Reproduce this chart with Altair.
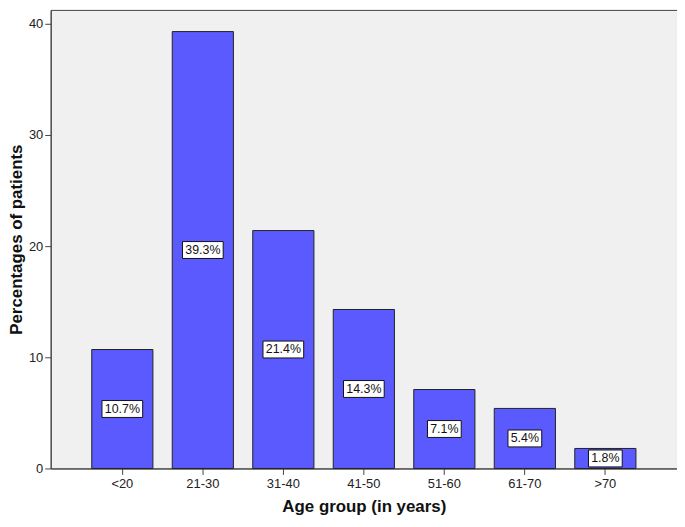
import altair as alt
import pandas as pd

categories = ["<20", "21-30", "31-40", "41-50", "51-60", "61-70", ">70"]
values = [10.7, 39.3, 21.4, 14.3, 7.1, 5.4, 1.8]
labels = ["10.7%", "39.3%", "21.4%", "14.3%", "7.1%", "5.4%", "1.8%"]

df = pd.DataFrame({"cat": categories, "val": values, "lab": labels})

FONT = "Liberation Sans"
HALF = 0.76  # half label-box height in data units

xenc = alt.X(
    "cat:N",
    sort=categories,
    scale=alt.Scale(paddingInner=0.24, paddingOuter=0.51),
    axis=alt.Axis(
        title="Age group (in years)",
        labelAngle=0,
        tickSize=6,
        labelPadding=3,
        titlePadding=8,
    ),
)
yscale = alt.Scale(domain=[0, 41.25], nice=False)

base = alt.Chart(df)

bars = base.mark_bar(color="#5a5aff", stroke="#222222", strokeWidth=1).encode(
    x=xenc,
    y=alt.Y(
        "val:Q",
        scale=yscale,
        axis=alt.Axis(
            title="Percentages of patients",
            values=[0, 10, 20, 30, 40],
            tickSize=6,
            labelPadding=2,
            titlePadding=3,
        ),
    ),
)

boxes5 = (
    base.transform_filter("length(datum.lab) == 5")
    .transform_calculate(lo=f"datum.val/2 - {HALF}", hi=f"datum.val/2 + {HALF}")
    .mark_bar(width=41, fill="white", stroke="#111111", strokeWidth=1)
    .encode(x=alt.X("cat:N", sort=categories), y=alt.Y("lo:Q", scale=yscale), y2="hi:Q")
)
boxes4 = (
    base.transform_filter("length(datum.lab) == 4")
    .transform_calculate(lo=f"datum.val/2 - {HALF}", hi=f"datum.val/2 + {HALF}")
    .mark_bar(width=34, fill="white", stroke="#111111", strokeWidth=1)
    .encode(x=alt.X("cat:N", sort=categories), y=alt.Y("lo:Q", scale=yscale), y2="hi:Q")
)

text = (
    base.transform_calculate(mid="datum.val/2")
    .mark_text(font=FONT, fontSize=12.5, color="#111111", baseline="middle", align="center")
    .encode(x=alt.X("cat:N", sort=categories), y=alt.Y("mid:Q", scale=yscale), text="lab:N")
)

chart = (
    alt.layer(bars, boxes5, boxes4, text)
    .properties(
        width=631,
        height=462,
        autosize=alt.AutoSizeParams(type="none"),
        padding={"left": 43, "top": 0, "right": 0, "bottom": 49},
        background="white",
    )
    .configure_view(fill="#f0f0f0", stroke="#444444", strokeWidth=1)
    .configure_axis(
        grid=False,
        domainColor="#444444",
        tickColor="#444444",
        labelFont=FONT,
        labelFontSize=13,
        labelColor="#222222",
        titleFont=FONT,
        titleFontSize=17,
        titleFontWeight="bold",
        titleColor="#111111",
    )
)

chart.save("out.html", embed_options={"renderer": "svg", "actions": False})
